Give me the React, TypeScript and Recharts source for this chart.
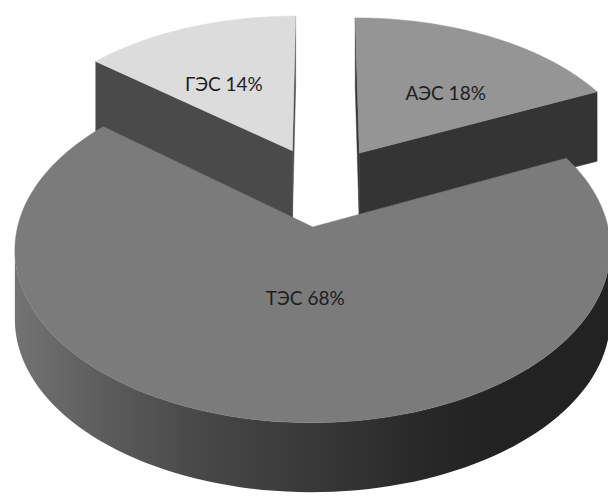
import React from 'react';
import { PieChart, Pie } from 'recharts';

// generation mix, clockwise from the ГЭС slice
const categories = ['ГЭС', 'АЭС', 'ТЭС'];
const shares = [14, 18, 68];
const topColors = ['#dcdcdc', '#959595', '#7b7b7b'];
const sideColors = ['#4a4a4a', '#343434', 'url(#tesWall)'];

const total = shares.reduce((a, b) => a + b, 0);
// ГЭС ends at 12 o'clock, so the pie starts one ГЭС-share before it
const START_ANGLE = 90 + (shares[0] / total) * 360;

const data = categories.map((name, i) => ({
  name,
  value: shares[i],
  top: topColors[i],
  side: sideColors[i],
}));

// 3D view settings, lengths in pie radii
const TILT = (34 * Math.PI) / 180;
const SIN_T = Math.sin(TILT);
const COS_T = Math.cos(TILT);
const VIEW_DIST = 6.6;
const THICKNESS = 0.293;
const EXPLODE = 0.25;

type Pt = [number, number];

// perspective on the pie plane, the wall height is a plain vertical drop
const project = (x: number, y: number, z: number, cx: number, cy: number, r: number): Pt => {
  const d = 1 + (y * COS_T) / VIEW_DIST;
  return [cx + (r * x) / d, cy - (r * y * SIN_T) / d - r * z * COS_T];
};

const toPath = (pts: Pt[]) =>
  'M' + pts.map((p) => `${p[0].toFixed(2)},${p[1].toFixed(2)}`).join('L') + 'Z';

const centroid = (pts: Pt[]): Pt => {
  let a = 0, x = 0, y = 0;
  for (let i = 0; i < pts.length; i++) {
    const [x0, y0] = pts[i];
    const [x1, y1] = pts[(i + 1) % pts.length];
    const f = x0 * y1 - x1 * y0;
    a += f;
    x += (x0 + x1) * f;
    y += (y0 + y1) * f;
  }
  return [x / (3 * a), y / (3 * a)];
};

const Slice3D = (props: any) => {
  const { cx, cy, outerRadius: r, startAngle, endAngle, midAngle } = props;
  const entry = props.payload ?? props;
  const rad = Math.PI / 180;
  const mid = midAngle * rad;
  const ox = EXPLODE * Math.cos(mid);
  const oy = EXPLODE * Math.sin(mid);
  const P = (x: number, y: number, z: number) => project(x, y, z, cx, cy, r);
  const rim = (a: number, z: number) => P(ox + Math.cos(a), oy + Math.sin(a), z);

  const steps = Math.max(8, Math.ceil(Math.abs(startAngle - endAngle) / 2));
  const angles = Array.from(
    { length: steps + 1 },
    (_, i) => (startAngle + ((endAngle - startAngle) * i) / steps) * rad
  );

  const apexTop = P(ox, oy, 0);
  const apexBot = P(ox, oy, -THICKNESS);
  const topFace = [apexTop, ...angles.map((a) => rim(a, 0))];

  // outer wall: visible where the rim runs left to right along the front
  const front = angles.filter((a) => rim(a + 0.001, 0)[0] - rim(a - 0.001, 0)[0] > 0);
  const wall =
    front.length > 1
      ? [
          ...front.map((a) => rim(a, 0)),
          ...front
            .slice()
            .reverse()
            .map((a) => rim(a, -THICKNESS)),
        ]
      : null;

  // radial cut faces, kept when their screen normal points down
  const inner = rim(mid, 0);
  const cuts: Pt[][] = [];
  [startAngle * rad, endAngle * rad].forEach((a) => {
    const end = rim(a, 0);
    const ex = end[0] - apexTop[0];
    const ey = end[1] - apexTop[1];
    let nx = -ey;
    let ny = ex;
    if (nx * (inner[0] - apexTop[0]) + ny * (inner[1] - apexTop[1]) > 0) {
      nx = -nx;
      ny = -ny;
    }
    if (ny <= 0) return;
    cuts.push([apexTop, end, rim(a, -THICKNESS), apexBot]);
  });

  const [lx, ly] = centroid(topFace);

  return (
    <g>
      {wall && <path d={toPath(wall)} fill={entry.side} stroke="none" />}
      {cuts.map((c, i) => (
        <path key={i} d={toPath(c)} fill={entry.side} stroke={entry.side} strokeWidth={0.5} />
      ))}
      <path d={toPath(topFace)} fill={entry.top} stroke={entry.top} strokeWidth={0.5} />
      <text
        x={lx}
        y={ly + 12}
        textAnchor="middle"
        dominantBaseline="central"
        fill="#1e1e1e"
        fontSize={19}
        fontFamily="Lato, 'Open Sans', sans-serif"
      >
        {`${entry.name} ${entry.value}%`}
      </text>
    </g>
  );
};

export default function App() {
  return (
    <div style={{ position: 'absolute', left: 0, top: 0, width: 608, height: 497, background: '#fff' }}>
      <PieChart width={608} height={497} margin={{ top: 0, right: 0, bottom: 0, left: 0 }}>
        <defs>
          <linearGradient id="tesWall" x1="0" y1="0" x2="1" y2="0">
            <stop offset="0" stopColor="#737373" />
            <stop offset="0.15" stopColor="#5c5c5c" />
            <stop offset="0.32" stopColor="#474747" />
            <stop offset="0.48" stopColor="#3a3a3a" />
            <stop offset="0.69" stopColor="#282828" />
            <stop offset="0.8" stopColor="#222222" />
            <stop offset="1" stopColor="#222222" />
          </linearGradient>
        </defs>
        <Pie
          data={data}
          dataKey="value"
          nameKey="name"
          cx={322}
          cy={186}
          outerRadius={286}
          startAngle={START_ANGLE}
          endAngle={START_ANGLE - 360}
          isAnimationActive={false}
          shape={Slice3D}
          activeShape={Slice3D}
          inactiveShape={Slice3D}
          stroke="none"
        />
      </PieChart>
    </div>
  );
}
